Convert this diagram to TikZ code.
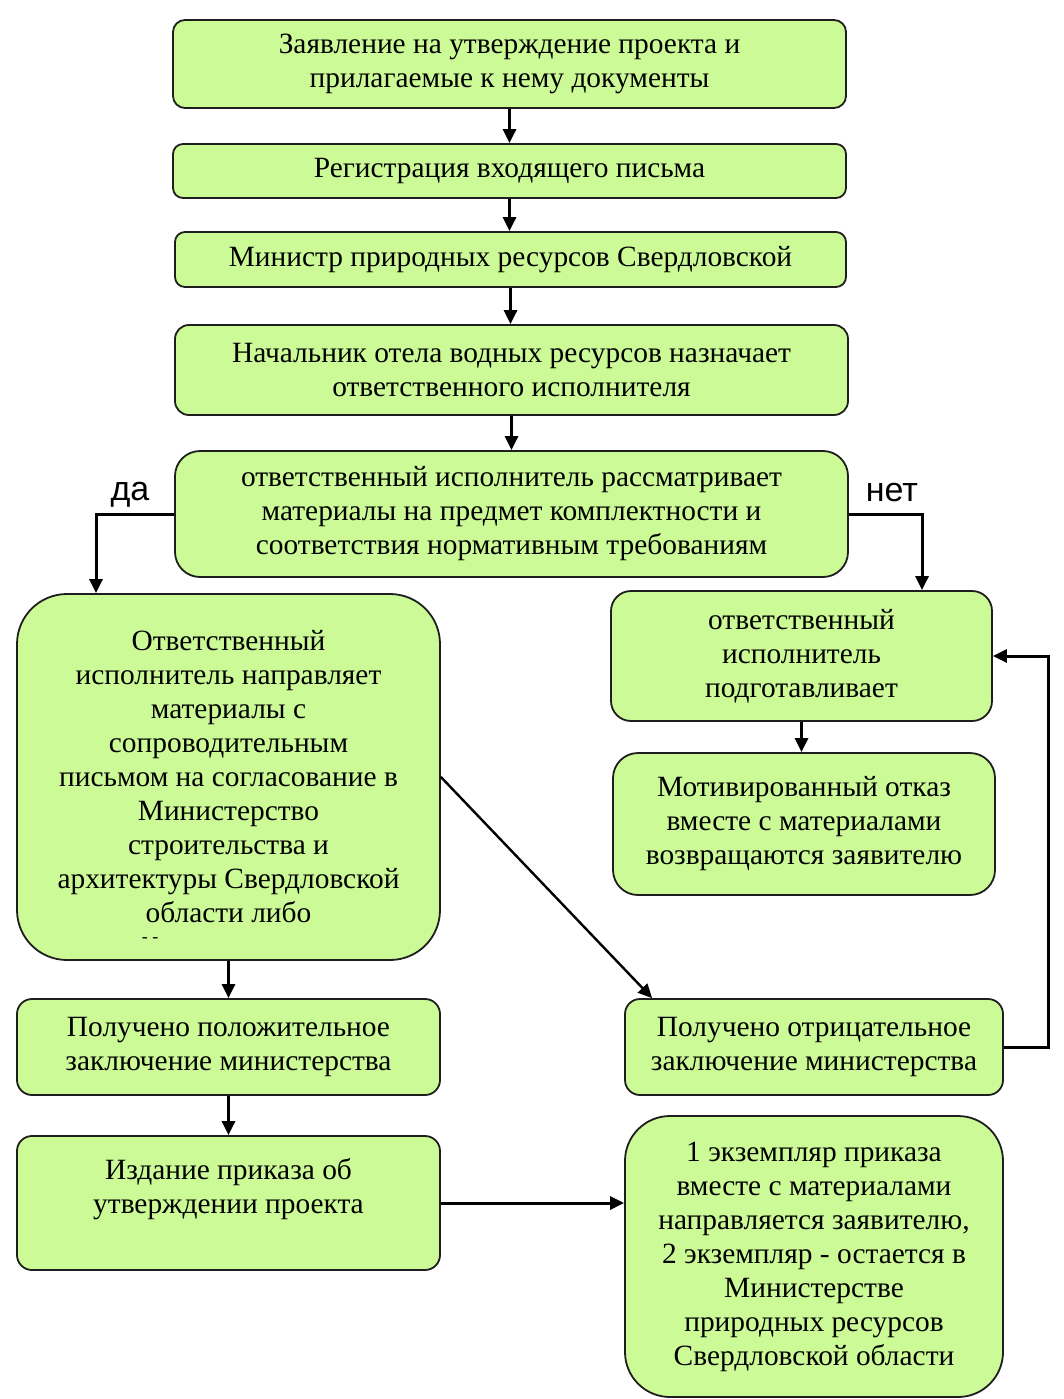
\documentclass[tikz,border=0pt]{standalone}
\usepackage{fontspec}
\setmainfont{Liberation Serif}
\newfontfamily\lsans{Liberation Sans}
\usetikzlibrary{arrows.meta}
\definecolor{boxgreen}{RGB}{204,250,150}
\definecolor{edge}{RGB}{30,30,30}
\begin{document}
\begin{tikzpicture}[x=1pt,y=-1pt,
  box/.style={draw=edge, line width=1.8pt, fill=boxgreen, rounded corners=#1,
    align=center, font=\fontsize{29.4}{34}\selectfont, inner sep=0pt},
  box/.default=12pt,
  conn/.style={draw=black, line width=3pt, -{Triangle[length=14pt,width=13pt]}},
  lbl/.style={font=\lsans\fontsize{34}{34}\selectfont, inner sep=0pt}]
\fill[white] (0,0) rectangle (1063,1399);
\useasboundingbox (0,0) rectangle (1063,1399);

\node[box=12pt, minimum width=673pt, minimum height=88pt] (b1) at (509.5,64)
  {Заявление на утверждение проекта и\\прилагаемые к нему документы};
\node[box=10pt, minimum width=673pt, minimum height=54pt] (b2) at (509.5,171)
  {Регистрация входящего письма};
\node[box=10pt, minimum width=671pt, minimum height=55pt] (b3) at (510.5,259.5)
  {Министр природных ресурсов Свердловской};
\node[box=14pt, minimum width=673pt, minimum height=90pt] (b4) at (511.5,370)
  {Начальник отела водных ресурсов назначает\\ответственного исполнителя};
\node[box=25pt, minimum width=673pt, minimum height=126pt] (b5) at (511.5,514)
  {ответственный исполнитель рассматривает\\материалы на предмет комплектности и\\соответствия нормативным требованиям};
\node[box=50pt, minimum width=423pt, minimum height=366pt] (b6) at (228.5,777)
  {Ответственный\\исполнитель направляет\\материалы с\\сопроводительным\\письмом на согласование в\\Министерство\\строительства и\\архитектуры Свердловской\\области либо};
\node[font=\fontsize{18}{18}\selectfont, inner sep=0pt] (dash) at (150,940) {- -};
\node[box=20pt, minimum width=381pt, minimum height=130pt] (b7) at (801.5,656)
  {ответственный\\исполнитель\\подготавливает};
\node[box=25pt, minimum width=382pt, minimum height=142pt] (b8) at (804,824)
  {Мотивированный отказ\\вместе с материалами\\возвращаются заявителю};
\node[box=15pt, minimum width=423pt, minimum height=96pt] (b9) at (228.5,1047)
  {Получено положительное\\заключение министерства};
\node[box=15pt, minimum width=378pt, minimum height=96pt] (b10) at (814,1047)
  {Получено отрицательное\\заключение министерства};
\node[box=15pt, minimum width=423pt, minimum height=134pt] (b11) at (228.5,1203)
  {Издание приказа об\\утверждении проекта\\[0pt]\mbox{}};
\node[box=45pt, minimum width=378pt, minimum height=281pt] (b12) at (814,1256.5)
  {1 экземпляр приказа\\вместе с материалами\\направляется заявителю,\\2 экземпляр - остается в\\Министерстве\\природных ресурсов\\Свердловской области};

\node[lbl] (da) at (130,495) {да};
\node[lbl] (net) at (892,493) {нет};

\coordinate (dapt) at (96,514);
\coordinate (netpt) at (922,514);
\coordinate (loopx) at (1048,1047);

\draw[conn] (b1.south) -- (b1.south |- b2.north);
\draw[conn] (b2.south) -- (b2.south |- b3.north);
\draw[conn] (b3.south) -- (b3.south |- b4.north);
\draw[conn] (b4.south) -- (b4.south |- b5.north);
\draw[conn] (b5.west) -- (dapt) -- (dapt |- b6.north);
\draw[conn] (b5.east) -- (netpt) -- (netpt |- b7.north);
\draw[conn] (b7.south) -- (b7.south |- b8.north);
\draw[conn] (b6.south) -- (b6.south |- b9.north);
\draw[conn, line width=2.4pt] (b6.east) -- ([xshift=28pt]b10.north west);
\draw[conn] (b9.south) -- (b9.south |- b11.north);
\draw[conn] (b10.east) -- (loopx) |- (b7.east);
\draw[conn] (b11.east) -- (b12.west |- b11.east);
\end{tikzpicture}
\end{document}
